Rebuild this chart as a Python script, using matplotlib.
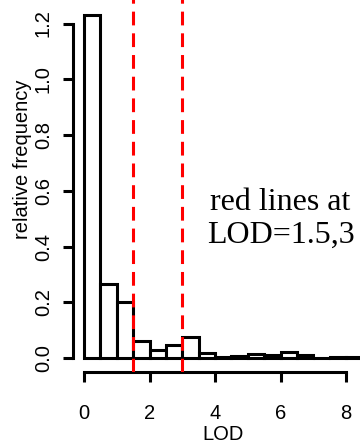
import matplotlib
matplotlib.use("Agg")
import matplotlib.pyplot as plt
import numpy as np

# data
bin_edges = [0.0, 0.5, 1.0, 1.5, 2.0, 2.5, 3.0, 3.5, 4.0, 4.5, 5.0, 5.5, 6.0, 6.5, 7.0, 7.5, 8.0, 8.5]
rel_freq = [1.23, 0.268, 0.20, 0.062, 0.030, 0.046, 0.076, 0.019, 0.004, 0.009,
            0.016, 0.011, 0.023, 0.010, 0.002, 0.005, 0.005]
thresholds = [1.5, 3.0]
x_ticks = [0, 2, 4, 6, 8]
y_ticks = [0.0, 0.2, 0.4, 0.6, 0.8, 1.0, 1.2]
y_tick_labels = ["0.0", "0.2", "0.4", "0.6", "0.8", "1.0", "1.2"]

plt.rcParams['font.family'] = ['Liberation Sans', 'DejaVu Sans']

fig = plt.figure(figsize=(3.6, 4.46), dpi=100)
ax = fig.add_axes([0.2025, 0.1654, 0.835, 0.942])

left = np.array(bin_edges[:-1])
widths = np.diff(bin_edges)
ax.bar(left, rel_freq, width=widths, align='edge', facecolor='white',
       edgecolor='black', linewidth=2.2, zorder=2)

for t in thresholds:
    ax.axvline(t, color='red', linewidth=2.2, linestyle=(0, (4.5, 2.6)), zorder=3)

ax.set_xlim(-0.34, 8.84)
ax.set_ylim(-0.05, 1.456)

for s in ['top', 'right']:
    ax.spines[s].set_visible(False)
ax.spines['left'].set_bounds(0, 1.2)
ax.spines['bottom'].set_bounds(0, 8)
ax.spines['left'].set_linewidth(2.2)
ax.spines['bottom'].set_linewidth(2.2)

ax.set_xticks(x_ticks)
ax.set_xticklabels([str(v) for v in x_ticks])
ax.set_yticks(y_ticks)
ax.set_yticklabels(y_tick_labels, rotation=90, va='center')
ax.tick_params(axis='both', length=7.5, width=2.2, labelsize=14.5)
ax.tick_params(axis='x', pad=15.5)
ax.tick_params(axis='y', pad=7)

ax.set_xlabel("LOD", fontsize=14.5, labelpad=1)
ax.set_ylabel("relative frequency", fontsize=14.5)
ax.yaxis.set_label_coords(-0.137, 0.508)

ax.text(6.0, 0.5, "red lines at\nLOD=1.5,3", ha='center', va='center',
        fontsize=23, family=['Liberation Serif', 'DejaVu Serif'], linespacing=1.15)

fig.savefig("out.png", dpi=100)
